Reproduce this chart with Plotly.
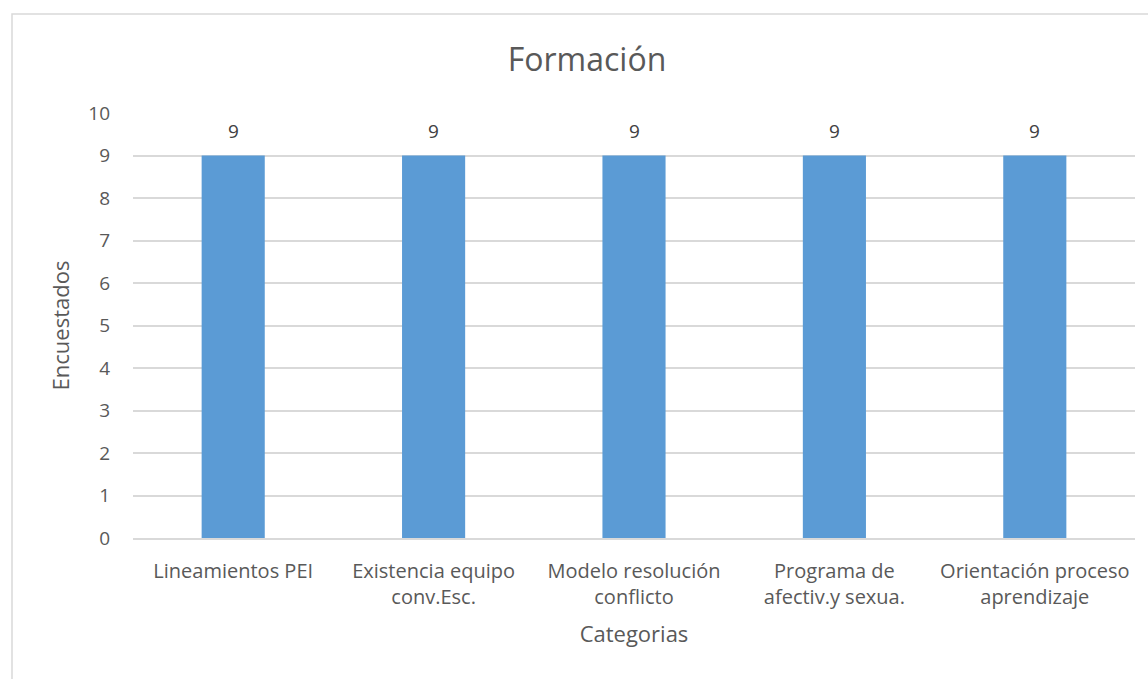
import plotly.graph_objects as go

categories = ["Lineamientos PEI", "Existencia equipo<br>conv.Esc.", "Modelo resolución<br>conflicto",
              "Programa de<br>afectiv.y sexua.", "Orientación proceso<br>aprendizaje"]
values = [9, 9, 9, 9, 9]
yticks = list(range(0, 11))

FONT = "Open Sans, sans-serif"
TXT = "#595959"

W, H = 1148, 679
L, R, T, B = 133, 13, 113, 141
pw, ph = W - L - R, H - T - B

fig = go.Figure()
fig.add_trace(go.Bar(x=categories, y=values, marker=dict(color="#5B9BD5", line=dict(width=0)),
                     width=0.315, hoverinfo="skip"))

for c, v in zip(categories, values):
    fig.add_annotation(x=c, y=v, text=str(v), showarrow=False, yanchor="middle",
                       yshift=25, font=dict(family=FONT, size=19, color="#404040"))

x0 = (12 - L) / pw
y0 = 1 + (T - 14) / ph
fig.add_shape(type="path", xref="paper", yref="paper",
              path=f"M {x0} -1 L {x0} {y0} L 2 {y0}",
              line=dict(color="#D9D9D9", width=1.5))

fig.update_layout(
    width=W, height=H,
    margin=dict(l=L, r=R, t=T, b=B),
    paper_bgcolor="white", plot_bgcolor="white",
    showlegend=False,
    title=dict(text="Formación", x=587 / W, xanchor="center",
               y=1 - 60 / H, yanchor="middle",
               font=dict(family=FONT, size=32, color=TXT)),
    font=dict(family=FONT, color=TXT, size=19),
    xaxis=dict(title=dict(text="Categorias", font=dict(size=22, color=TXT), standoff=18),
               tickfont=dict(size=20, color=TXT), showgrid=False, showline=True,
               linecolor="#D9D9D9", linewidth=1.5, ticks="", ticklabelstandoff=14),
    yaxis=dict(title=dict(text="Encuestados", font=dict(size=22, color=TXT), standoff=12),
               range=[0, 10], tickvals=yticks, tickfont=dict(size=19, color=TXT),
               showgrid=True, gridcolor="#D9D9D9", gridwidth=1.5, zeroline=False,
               showline=False, ticks="", ticklabelstandoff=22),
    bargap=0.685,
)

fig.write_html("out.html", config={"displayModeBar": False},
               post_script="document.body.style.margin='0';")
